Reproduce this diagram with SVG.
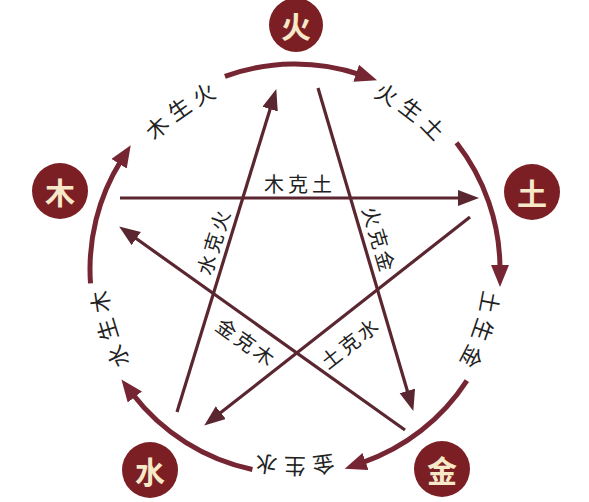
<svg xmlns="http://www.w3.org/2000/svg" width="589" height="502" viewBox="0 0 589 502">
<style>
.bg{fill:#ffffff}
.node circle{fill:#7c1f25}
.node text{fill:#f7e8c8;font-family:"Noto Sans CJK SC",sans-serif;font-size:30px;font-weight:700;text-anchor:middle;dominant-baseline:central}
.arc{fill:none;stroke:#752632;stroke-width:5}
.star{fill:none;stroke:#5a2630;stroke-width:3.2}
.lbl{fill:#222222;font-family:"Noto Sans CJK SC",sans-serif;font-size:20px;text-anchor:middle;dominant-baseline:central}
.clbl{fill:#222222;font-family:"Noto Sans CJK SC",sans-serif;font-size:22px;letter-spacing:7px;text-anchor:middle;dominant-baseline:central}
</style>
<defs>
<marker id="ah" markerUnits="userSpaceOnUse" markerWidth="24" markerHeight="18" refX="4" refY="9" orient="auto">
<path d="M0,0 L22,9 L0,18 Z" fill="#752632"/>
</marker>
<marker id="sh" markerUnits="userSpaceOnUse" markerWidth="24" markerHeight="18" refX="4" refY="8" orient="auto">
<path d="M0,0 L21,8 L0,16 Z" fill="#5a2630"/>
</marker>
<path id="lp" d="M494,269 A199,199 0 1 1 96,269 A199,199 0 1 1 494,269"/>
</defs>
<rect class="bg" x="0" y="0" width="589" height="502"/>
<g id="connectors">
<path class="arc" d="M90.5,283.3 A205,205 0 0 1 121.2,160.4" marker-end="url(#ah)"/>
<path class="arc" d="M224.9,76.4 A205,205 0 0 1 360,74.6" marker-end="url(#ah)"/>
<path class="arc" d="M456.5,142.8 A205,205 0 0 1 500,269" marker-end="url(#ah)"/>
<path class="arc" d="M466.9,380.6 A205,205 0 0 1 361.7,462.8" marker-end="url(#ah)"/>
<path class="arc" d="M252.4,469.5 A205,205 0 0 1 132.4,393.8" marker-end="url(#ah)"/>
<path class="star" d="M120,198 L462,198" marker-end="url(#sh)"/>
<path class="star" d="M177,412 L271.3,105.3" marker-end="url(#sh)"/>
<path class="star" d="M318,88 L408.5,394.7" marker-end="url(#sh)"/>
<path class="star" d="M470,217 L217.6,415.1" marker-end="url(#sh)"/>
<path class="star" d="M405,430 L133,236.3" marker-end="url(#sh)"/>
</g>
<g id="cycle-labels">
<text class="clbl"><textPath href="#lp" startOffset="65.3%">木生火</textPath></text>
<text class="clbl"><textPath href="#lp" startOffset="85.3%">火生土</textPath></text>
<text class="clbl"><textPath href="#lp" startOffset="5.3%">土生金</textPath></text>
<text class="clbl"><textPath href="#lp" startOffset="25.3%">金生水</textPath></text>
<text class="clbl"><textPath href="#lp" startOffset="45.3%">水生木</textPath></text>
</g>
<g id="control-labels">
<text class="lbl" x="300" y="183" letter-spacing="4">木克土</text>
<text class="lbl" transform="translate(213,241) rotate(-73)" letter-spacing="3">水克火</text>
<text class="lbl" transform="translate(380,240) rotate(73.6)" letter-spacing="3">火克金</text>
<text class="lbl" transform="translate(247,342) rotate(35.5)" letter-spacing="3">金克木</text>
<text class="lbl" transform="translate(350,342) rotate(-38)" letter-spacing="3">土克水</text>
</g>
<g id="node-fire" class="node"><circle cx="296" cy="25" r="27"/><text x="296" y="25">火</text></g>
<g id="node-wood" class="node"><circle cx="60" cy="191" r="28"/><text x="60" y="191">木</text></g>
<g id="node-earth" class="node"><circle cx="532" cy="192" r="28"/><text x="532" y="192">土</text></g>
<g id="node-water" class="node"><circle cx="150" cy="470" r="28"/><text x="150" y="470">水</text></g>
<g id="node-metal" class="node"><circle cx="442" cy="469" r="28"/><text x="442" y="469">金</text></g>
</svg>
